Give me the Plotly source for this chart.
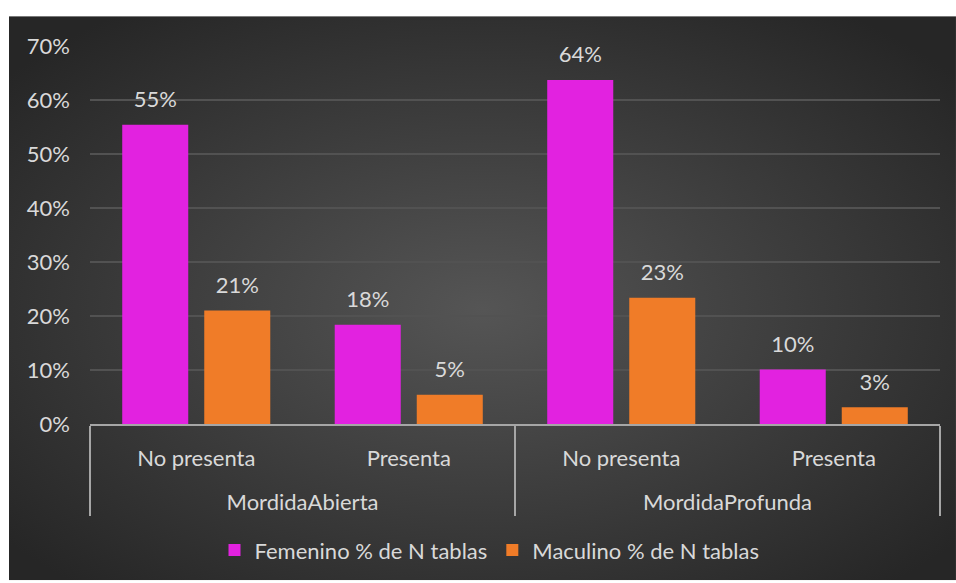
import plotly.graph_objects as go

groups = ["MordidaAbierta", "MordidaAbierta", "MordidaProfunda", "MordidaProfunda"]
subcats = ["No presenta", "Presenta", "No presenta", "Presenta"]
femenino = [0.554, 0.184, 0.637, 0.101]
masculino = [0.210, 0.054, 0.234, 0.031]
series_names = ["Femenino % de N tablas", "Maculino % de N tablas"]
y_ticks = [0, 0.1, 0.2, 0.3, 0.4, 0.5, 0.6, 0.7]

FONT = "Lato"
FS = 22
TXT = "#d9d9d9"
colors = ["#e222e0", "#f07c28"]

bg_svg = (
    "data:image/svg+xml;utf8,"
    "<svg xmlns='http://www.w3.org/2000/svg' width='947' height='567' preserveAspectRatio='none'>"
    "<defs><radialGradient id='g' cx='50%' cy='52%' r='65%'>"
    "<stop offset='0' stop-color='%23555555'/>"
    "<stop offset='1' stop-color='%23262626'/>"
    "</radialGradient></defs>"
    "<rect width='947' height='567' fill='url(%23g)'/></svg>"
)

# inner labels get an extra blank line so the outer group labels sit lower
x = [groups, [s + "<br> " for s in subcats]]
fig = go.Figure()
for name, vals, col in zip(series_names, [femenino, masculino], colors):
    fig.add_trace(go.Bar(
        x=x, y=vals, name=name, marker=dict(color=col, line=dict(width=0)),
        offsetgroup=name, hoverinfo="skip",
    ))
for name, vals in zip(series_names, [femenino, masculino]):
    fig.add_trace(go.Scatter(
        x=x, y=vals, mode="markers+text", offsetgroup=name,
        text=[f"{round(v*100)}%" for v in vals], textposition="top center",
        textfont=dict(family=FONT, size=FS, color=TXT),
        marker=dict(size=18, opacity=0), showlegend=False, hoverinfo="skip",
    ))

fig.update_layout(
    width=956, height=583,
    margin=dict(l=90, r=16, t=46, b=157),
    paper_bgcolor="white", plot_bgcolor="rgba(0,0,0,0)",
    barmode="group", bargap=0.228, bargroupgap=0.195,
    scattermode="group", scattergap=0.228,
    font=dict(family=FONT, color=TXT, size=FS),
    showlegend=True,
    legend=dict(orientation="h", x=0.47, xanchor="center", y=-0.334, yanchor="middle",
                font=dict(family=FONT, size=FS, color=TXT), bgcolor="rgba(0,0,0,0)",
                itemwidth=30),
    images=[dict(source=bg_svg, xref="paper", yref="paper", x=-0.0953, y=1.0789,
                 sizex=1.1141, sizey=1.4921, sizing="stretch", layer="below",
                 xanchor="left", yanchor="top")],
)
fig.update_yaxes(range=[0, 0.7], tickvals=y_ticks, tickformat=".0%",
                 showgrid=True, gridcolor="#525252", gridwidth=1.5,
                 zeroline=False, showline=False, ticks="", ticklabelstandoff=19,
                 tickfont=dict(family=FONT, size=FS, color=TXT))
fig.update_xaxes(showline=True, linecolor="#a6a6a6", linewidth=1.5,
                 showdividers=True, dividercolor="#a6a6a6", dividerwidth=1.5,
                 ticks="", ticklabelstandoff=14,
                 tickfont=dict(family=FONT, size=FS, color=TXT))

fig.write_html("out.html")
